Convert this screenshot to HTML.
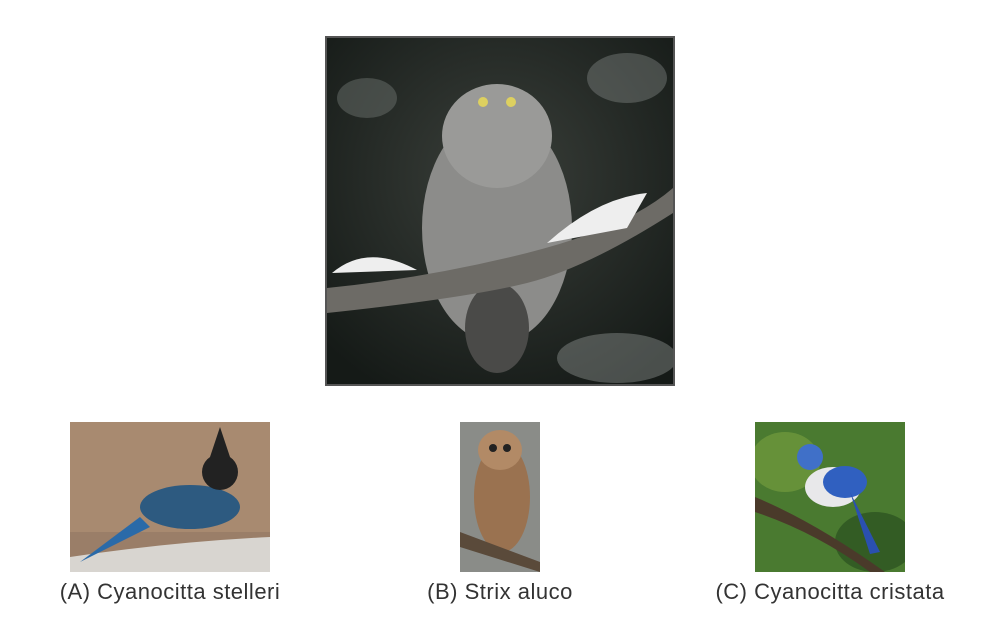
<!DOCTYPE html>
<html><head><meta charset="utf-8"><style>
body{margin:0;width:1000px;height:620px;background:#fff;position:relative;overflow:hidden;font-family:"Liberation Sans",sans-serif}
.abs{position:absolute}
.cap{position:absolute;top:579px;font-size:22px;letter-spacing:0.5px;color:#333;text-align:center;white-space:nowrap}
</style></head><body>
<div class="abs" style="left:325px;top:36px;width:346px;height:346px;border:2px solid #555;overflow:hidden">
<svg width="346" height="346" viewBox="0 0 346 346">
<defs><radialGradient id="bg" cx="50%" cy="40%" r="70%"><stop offset="0" stop-color="#3a3f3a"/><stop offset="1" stop-color="#151a17"/></radialGradient></defs>
<rect width="346" height="346" fill="url(#bg)"/>
<ellipse cx="40" cy="60" rx="30" ry="20" fill="#6a6f6c" opacity=".5"/>
<ellipse cx="300" cy="40" rx="40" ry="25" fill="#8a8f8c" opacity=".4"/>
<ellipse cx="290" cy="320" rx="60" ry="25" fill="#9aa09d" opacity=".4"/>
<ellipse cx="170" cy="190" rx="75" ry="115" fill="#8c8c8a"/>
<ellipse cx="170" cy="98" rx="55" ry="52" fill="#9a9a98"/>
<ellipse cx="170" cy="290" rx="32" ry="45" fill="#4a4a48"/>
<circle cx="156" cy="64" r="5" fill="#ddd060"/><circle cx="184" cy="64" r="5" fill="#ddd060"/>
<path d="M0 250 Q100 240 200 215 T346 150 L346 175 Q260 230 200 245 T0 275Z" fill="#6d6b66"/>
<path d="M5 235 Q40 205 90 232Z" fill="#eee"/><path d="M220 205 Q270 160 320 155 L300 190Z" fill="#eee"/>
</svg></div>

<div class="abs" style="left:70px;top:422px;width:200px;height:150px;overflow:hidden">
<svg width="200" height="150"><rect width="200" height="150" fill="#a88a70"/>
<rect y="110" width="200" height="40" fill="#9a7e68"/>
<path d="M0 135 Q100 120 200 115 L200 150 L0 150Z" fill="#d8d5d0"/>
<ellipse cx="120" cy="85" rx="50" ry="22" fill="#2d5a80"/>
<path d="M10 140 L70 95 L80 105Z" fill="#2a6aa8"/>
<circle cx="150" cy="50" r="18" fill="#222"/><path d="M140 35 L150 5 L160 35Z" fill="#222"/>
</svg></div>

<div class="abs" style="left:460px;top:422px;width:80px;height:150px;overflow:hidden">
<svg width="80" height="150"><rect width="80" height="150" fill="#8a8c88"/>
<ellipse cx="42" cy="75" rx="28" ry="55" fill="#9a7250"/>
<ellipse cx="40" cy="28" rx="22" ry="20" fill="#b28a66"/>
<circle cx="33" cy="26" r="4" fill="#222"/><circle cx="47" cy="26" r="4" fill="#222"/>
<path d="M0 110 L80 140 L80 150 L0 125Z" fill="#5a4a3a"/>
</svg></div>

<div class="abs" style="left:755px;top:422px;width:150px;height:150px;overflow:hidden">
<svg width="150" height="150"><rect width="150" height="150" fill="#4a7a30"/>
<ellipse cx="30" cy="40" rx="35" ry="30" fill="#7aa040" opacity=".6"/>
<ellipse cx="120" cy="120" rx="40" ry="30" fill="#2a5020" opacity=".7"/>
<path d="M0 75 Q60 100 130 150 L115 150 Q60 110 0 90Z" fill="#4a3a2a"/>
<ellipse cx="78" cy="65" rx="28" ry="20" fill="#e8e8ea"/>
<ellipse cx="90" cy="60" rx="22" ry="16" fill="#3060c0"/>
<path d="M95 70 L125 130 L115 132Z" fill="#2a50b0"/>
<circle cx="55" cy="35" r="13" fill="#4070c8"/>
</svg></div>

<div class="cap" style="left:0;width:340px">(A) Cyanocitta stelleri</div>
<div class="cap" style="left:400px;width:200px">(B) Strix aluco</div>
<div class="cap" style="left:665px;width:330px">(C) Cyanocitta cristata</div>
</body></html>
